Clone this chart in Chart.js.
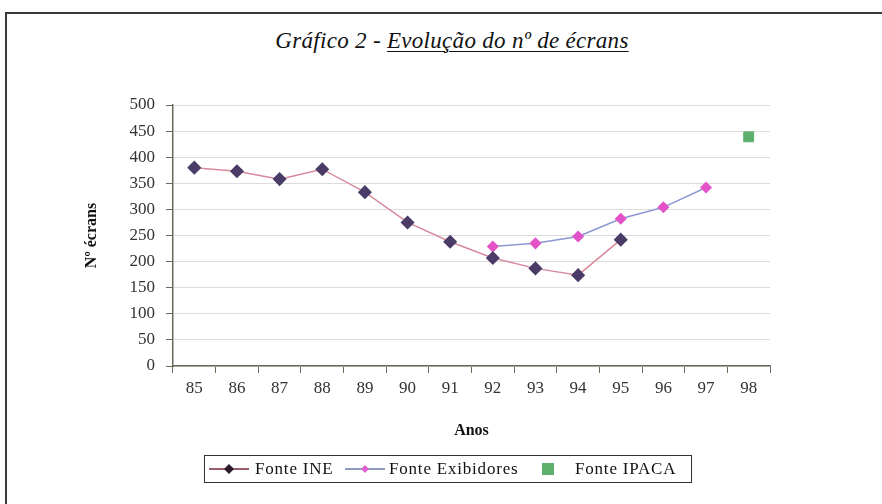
<!DOCTYPE html>
<html>
<head>
<meta charset="utf-8">
<script src="https://cdn.jsdelivr.net/npm/chart.js@4/dist/chart.umd.min.js"></script>
<style>
  html, body { margin: 0; padding: 0; background: #fff; }
  #wrap { position: relative; width: 882px; height: 504px; overflow: hidden; }
  #frame {
    position: absolute; left: 5px; top: 12px; width: 900px; height: 520px;
    border-top: 2px solid #3a3a3a; border-left: 2px solid #3a3a3a;
  }
  #title {
    position: absolute; left: 0; top: 28px; width: 904px; text-align: center;
    font-family: "Liberation Serif", "DejaVu Serif", serif; font-style: italic;
    font-size: 23px; letter-spacing: 0.3px; color: #111;
  }
  #title u { text-decoration-thickness: 1px; text-underline-offset: 3px; }
  #chart { position: absolute; left: 0; top: 0; }
  #legend {
    position: absolute; left: 204px; top: 455px; width: 488px; height: 28px;
    border: 1px solid #333; box-sizing: border-box;
    font-family: "Liberation Serif", "DejaVu Serif", serif; font-size: 17px;
    letter-spacing: 0.8px; color: #111; white-space: nowrap;
  }
  #legend .sym { position: absolute; top: 6px; display: block; }
  #legend .txt { position: absolute; top: 3px; }
</style>
</head>
<body>
<div id="wrap">
  <div id="frame"></div>
  <div id="title">Gráfico 2 - <u>Evolução do nº de écrans</u></div>
  <canvas id="chart" width="882" height="504"></canvas>
  <div id="legend">
    <svg class="sym" style="left:4px" width="40" height="14"><line x1="0" y1="7" x2="40" y2="7" stroke="#7a2a3a" stroke-width="1.5"/><polygon points="20,2 25,7 20,12 15,7" fill="#2a1a2a"/></svg>
    <span class="txt" style="left:50px">Fonte INE</span>
    <svg class="sym" style="left:140px" width="40" height="14"><line x1="0" y1="7" x2="40" y2="7" stroke="#6878a8" stroke-width="1.5"/><polygon points="20,3 24,7 20,11 16,7" fill="#e060d0"/></svg>
    <span class="txt" style="left:184px">Fonte Exibidores</span>
    <svg class="sym" style="left:336px" width="14" height="14"><rect x="1" y="1" width="12" height="12" fill="#5cb06c"/></svg>
    <span class="txt" style="left:370px">Fonte IPACA</span>
  </div>
</div>
<script>
const anos = ['85', '86', '87', '88', '89', '90', '91', '92', '93', '94', '95', '96', '97', '98'];
const fonteINE = [380, 373, 358, 377, 333, 275, 238, 207, 187, 174, 242, null, null, null];
const fonteExibidores = [null, null, null, null, null, null, null, 229, 235, 248, 282, 304, 342, null];
const fonteIPACA = [null, null, null, null, null, null, null, null, null, null, null, null, null, 439];
const yTicks = [0, 50, 100, 150, 200, 250, 300, 350, 400, 450, 500];

const serif = '"Liberation Serif", "DejaVu Serif", serif';

new Chart(document.getElementById('chart'), {
  type: 'line',
  data: {
    labels: anos,
    datasets: [
      {
        label: 'Fonte INE',
        data: fonteINE,
        borderColor: '#d88a9c',
        borderWidth: 1.5,
        pointStyle: 'rectRot',
        pointRadius: 6,
        pointBackgroundColor: '#4a3c66',
        pointBorderColor: '#4a3c66',
        tension: 0,
        spanGaps: false,
      },
      {
        label: 'Fonte Exibidores',
        data: fonteExibidores,
        borderColor: '#8c98d4',
        borderWidth: 1.5,
        pointStyle: 'rectRot',
        pointRadius: 5,
        pointBackgroundColor: '#e452c8',
        pointBorderColor: '#e452c8',
        tension: 0,
        spanGaps: false,
      },
      {
        label: 'Fonte IPACA',
        data: fonteIPACA,
        showLine: false,
        pointStyle: 'rect',
        pointRadius: 7,
        pointBackgroundColor: '#5cb06c',
        pointBorderColor: '#5cb06c',
      },
    ],
  },
  options: {
    responsive: false,
    animation: false,
    layout: { padding: { left: 78, right: 112, top: 105, bottom: 60 } },
    plugins: {
      legend: { display: false },
      title: { display: false },
      tooltip: { enabled: false },
    },
    scales: {
      x: {
        offset: true,
        grid: {
          offset: true,
          drawOnChartArea: false,
          drawTicks: true,
          tickLength: 7,
          tickColor: '#6a6a58',
        },
        border: { color: '#6a6a58', width: 1.5 },
        ticks: {
          font: { family: serif, size: 17 },
          color: '#333',
          padding: 5,
          autoSkip: false,
          maxRotation: 0,
        },
        title: {
          display: true,
          text: 'Anos',
          font: { family: serif, size: 16, weight: 'bold' },
          color: '#111',
          padding: { top: 4, bottom: 4 },
        },
        afterFit(scale) { scale.height = 78; },
      },
      y: {
        min: 0,
        max: 500,
        afterBuildTicks(scale) { scale.ticks = yTicks.map((v) => ({ value: v })); },
        grid: {
          color: '#dcdcdc',
          drawTicks: true,
          tickLength: 7,
          tickColor: '#6a6a58',
        },
        border: { color: '#6a6a58', width: 1.5 },
        ticks: {
          font: { family: serif, size: 17 },
          color: '#333',
          padding: 11,
        },
        title: {
          display: true,
          text: 'Nº écrans',
          font: { family: serif, size: 16, weight: 'bold' },
          color: '#111',
          padding: { top: 4, bottom: 4 },
        },
        afterFit(scale) { scale.width = 95; },
      },
    },
  },
});
</script>
</body>
</html>
